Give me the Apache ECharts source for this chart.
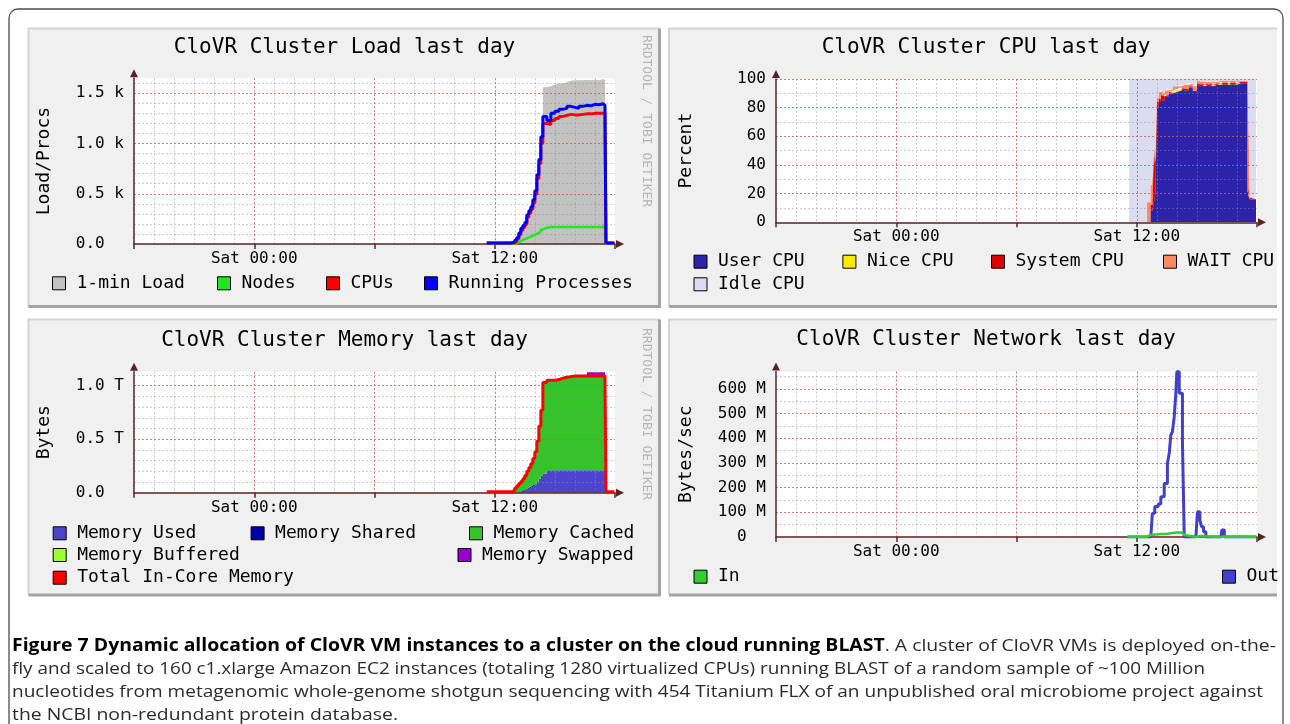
<!DOCTYPE html>
<html>
<head>
<meta charset="utf-8">
<title>CloVR cluster ganglia graphs</title>
<script src="https://cdn.jsdelivr.net/npm/echarts@6.0.0/dist/echarts.min.js"></script>
<style>
  html, body { margin:0; padding:0; background:#ffffff; }
  body { width:1290px; height:724px; position:relative; overflow:hidden; }
  #chart { position:absolute; left:0; top:0; width:1290px; height:724px; }
  .cap { position:absolute; left:12px; white-space:nowrap; font-family:"Open Sans","Noto Sans",sans-serif; font-size:17px; line-height:23px; color:#2b2b2b; transform-origin:0 50%; }
  .cap b { font-weight:700; color:#000; }
</style>
</head>
<body>
<div id="chart"></div>
<div class="cap" id="cap1" style="top:633px"><b>Figure 7 Dynamic allocation of CloVR VM instances to a cluster on the cloud running BLAST</b>. A cluster of CloVR VMs is deployed on-the-</div>
<div class="cap" id="cap2" style="top:656px">fly and scaled to 160 c1.xlarge Amazon EC2 instances (totaling 1280 virtualized CPUs) running BLAST of a random sample of ~100 Million</div>
<div class="cap" id="cap3" style="top:679px">nucleotides from metagenomic whole-genome shotgun sequencing with 454 Titanium FLX of an unpublished oral microbiome project against</div>
<div class="cap" id="cap4" style="top:702px">the NCBI non-redundant protein database.</div>
<script>
// ---------------- DATA ----------------
// time axis in hours since Fri 18:00 (0 .. 24)
const timeTickHours = [6, 18];
const timeTickLabels = ['Sat 00:00', 'Sat 12:00'];

// Load panel
const loadHours = [17.6, 18.0, 18.4, 18.8, 18.9, 19.0, 19.1, 19.2, 19.3, 19.4, 19.5, 19.6, 19.7, 19.8, 19.9, 20.0, 20.1, 20.2, 20.3, 20.4, 20.6, 20.8, 21.0, 21.2, 21.4, 21.6, 21.8, 22.0, 22.2, 22.4, 22.6, 22.8, 23.0, 23.2, 23.4, 23.5, 23.55, 23.8, 23.97];
const loadOneMin = [0, 0, 0, 0, 5, 20, 45, 80, 120, 150, 180, 245, 285, 325, 390, 470, 620, 770, 960, 1560, 1570, 1585, 1600, 1600, 1610, 1625, 1630, 1630, 1630, 1635, 1630, 1635, 1630, 1640, 1635, 1630, 0, 0, 0];
const loadNodes = [0, 0, 0, 0, 0, 8, 18, 30, 40, 48, 57, 65, 73, 82, 92, 100, 110, 125, 145, 160, 170, 170, 170, 170, 170, 170, 170, 170, 170, 170, 170, 170, 170, 170, 170, 170, 0, 0, 0];
const loadCpus = [10, 10, 10, 10, 12, 25, 50, 90, 135, 165, 195, 265, 305, 345, 410, 495, 650, 800, 1000, 1200, 1190, 1230, 1250, 1270, 1280, 1290, 1285, 1285, 1290, 1295, 1295, 1300, 1300, 1300, 1300, 1200, 10, 10, 10];
const loadProcs = [10, 10, 10, 15, 20, 40, 65, 110, 156, 185, 215, 290, 330, 371, 440, 530, 690, 840, 1068, 1270, 1230, 1300, 1320, 1340, 1350, 1370, 1360, 1350, 1370, 1380, 1375, 1390, 1385, 1395, 1380, 1360, 10, 10, 10];
const loadTickLabels = ['0.0\u00a0\u00a0', '0.5 k', '1.0 k', '1.5 k'];

// CPU panel (percent)
const cpuHours = [17.62, 18.5, 18.68, 18.78, 18.87, 18.93, 19.0, 19.1, 19.2, 19.3, 19.4, 19.6, 19.8, 20.0, 20.2, 20.4, 20.6, 20.8, 21.0, 21.2, 21.4, 21.6, 21.8, 22.0, 22.2, 22.4, 22.6, 22.8, 23.0, 23.2, 23.4, 23.53, 23.62, 23.95];
const cpuUser = [0, 0, 8, 15, 20, 72, 80, 84, 86, 85, 88, 90, 91, 92, 93, 92, 94, 91, 96, 95, 96, 95, 96, 96, 97, 96, 97, 96, 97, 97, 97, 22, 16, 16];
const cpuNice = [0, 0, 0, 0, 0, 0, 0, 0, 0, 0, 0, 0, 0, 0, 0, 0, 0, 0, 0, 0, 0, 0, 0, 0, 0, 0, 0, 0, 0, 0, 0, 0, 0, 0];
const cpuSystem = [0, 0, 4, 35, 20, 5, 4, 2, 3, 3, 1, 1, 1, 1, 1, 1, 1, 1, 1, 1, 1, 1, 1, 1, 1, 1, 1, 1, 1, 1, 1, 1, 1, 1];
const cpuWait = [0, 14, 14, 2, 2, 3, 3, 5, 3, 2, 3, 2, 3, 2, 2, 3, 2, 3, 2, 2, 1, 2, 1, 2, 1, 2, 1, 2, 1, 1, 1, 2, 1, 1];
const cpuIdle = [100, 86, 74, 48, 58, 20, 13, 9, 8, 10, 8, 7, 5, 5, 4, 4, 3, 5, 1, 2, 2, 2, 2, 1, 1, 1, 1, 1, 1, 1, 1, 75, 82, 82];
const cpuTickLabels = ['0', '20', '40', '60', '80', '100'];

// Memory panel (terabytes)
const memHours = [17.6, 18.0, 18.4, 18.8, 18.9, 19.0, 19.1, 19.2, 19.3, 19.4, 19.5, 19.6, 19.7, 19.8, 19.9, 20.0, 20.1, 20.2, 20.3, 20.4, 20.6, 20.8, 21.0, 21.2, 21.4, 21.6, 21.8, 22.0, 22.2, 22.4, 22.6, 22.8, 23.0, 23.2, 23.4, 23.5, 23.55, 23.8, 23.97];
const memUsed = [0, 0, 0, 0, 0, 0, 0, 0.005, 0.01, 0.02, 0.028, 0.035, 0.045, 0.055, 0.068, 0.08, 0.1, 0.13, 0.16, 0.18, 0.21, 0.21, 0.21, 0.21, 0.21, 0.21, 0.21, 0.21, 0.21, 0.21, 0.21, 0.21, 0.21, 0.21, 0.21, 0.21, 0, 0, 0];
const memShared = [0, 0, 0, 0, 0, 0, 0, 0, 0, 0, 0, 0, 0, 0, 0, 0, 0, 0, 0, 0, 0, 0, 0, 0, 0, 0, 0, 0, 0, 0, 0, 0, 0, 0, 0, 0, 0, 0, 0];
const memCached = [0, 0, 0, 0, 0.015, 0.035, 0.055, 0.07, 0.085, 0.1, 0.122, 0.155, 0.18, 0.205, 0.242, 0.29, 0.37, 0.48, 0.6, 0.84, 0.84, 0.84, 0.845, 0.86, 0.87, 0.875, 0.88, 0.88, 0.88, 0.88, 0.88, 0.88, 0.88, 0.88, 0.88, 0.86, 0, 0, 0];
const memBuffered = [0, 0, 0, 0, 0, 0, 0, 0, 0, 0, 0, 0, 0, 0, 0, 0, 0, 0, 0, 0, 0, 0, 0, 0, 0, 0, 0, 0, 0, 0, 0, 0, 0, 0, 0, 0, 0, 0, 0];
const memSwapped = [0, 0, 0, 0, 0, 0, 0, 0, 0, 0, 0, 0, 0, 0, 0, 0, 0, 0, 0, 0, 0, 0, 0, 0, 0, 0, 0, 0, 0, 0, 0.035, 0.035, 0.035, 0.035, 0.035, 0, 0, 0, 0];
const memTotal = [0.01, 0.01, 0.01, 0.01, 0.025, 0.045, 0.065, 0.085, 0.105, 0.13, 0.16, 0.2, 0.235, 0.27, 0.32, 0.38, 0.48, 0.62, 0.77, 1.03, 1.05, 1.05, 1.055, 1.07, 1.08, 1.085, 1.09, 1.09, 1.09, 1.09, 1.09, 1.09, 1.09, 1.09, 1.09, 1.07, 0.01, 0.01, 0.01];
const memTickLabels = ['0.0\u00a0\u00a0', '0.5 T', '1.0 T'];

// Network panel (MB/s)
const netHours = [17.53, 18.45, 18.7, 18.78, 18.9, 19.07, 19.2, 19.37, 19.53, 19.62, 19.7, 19.78, 19.87, 19.95, 20.0, 20.12, 20.17, 20.28, 20.37, 20.45, 20.95, 21.03, 21.15, 21.23, 21.33, 21.45, 21.53, 22.2, 22.25, 22.37, 23.97];
const netOut = [0, 0, 0, 96, 123, 134, 163, 217, 298, 339, 413, 426, 487, 582, 669, 582, 582, 386, 0, 0, 0, 102, 69, 42, 21, 0, 0, 0, 28, 0, 0];
const netIn = [0, 8, 10, 10, 11, 12, 12, 13, 14, 15, 16, 17, 17, 18, 18, 18, 17, 16, 8, 0, 2, 4, 5, 4, 3, 2, 0, 0, 2, 0, 0];
const netTickLabels = ['0\u00a0\u00a0', '100 M', '200 M', '300 M', '400 M', '500 M', '600 M'];

// ---------------- STYLE ----------------
const FONT = '"DejaVu Sans Mono", "Liberation Mono", monospace';
const AXIS = '#5a2222';
const MINOR = 'rgba(143,143,143,0.45)';
const MAJOR = 'rgba(222,80,80,0.7)';

const grids = [
  {left: 134, top: 78.2, width: 481, height: 165.8},
  {left: 776, top: 79, width: 481, height: 143.3},
  {left: 134, top: 371.8, width: 481, height: 120.9},
  {left: 776, top: 371.5, width: 481, height: 165.5}
].map(g => Object.assign(g, {show: true, backgroundColor: '#ffffff', borderWidth: 0, containLabel: false, outerBoundsMode: 'none'}));

const xAxes = [];
const yAxes = [];
function addX(g) {
  xAxes.push({gridIndex: g, type: 'value', position: 'bottom', offset: 0, min: 0, max: 24, interval: 1, z: 3,
    axisLine: {show: false}, axisTick: {show: false}, axisLabel: {show: false},
    splitLine: {show: true, showMinLine: false, showMaxLine: false, lineStyle: {color: MINOR, type: [2, 2], width: 1}}});
  xAxes.push({gridIndex: g, type: 'value', position: 'bottom', offset: 0, min: 0, max: 24, interval: 6, z: 3,
    axisLine: {show: true, onZero: false, symbol: ['none', 'triangle'], symbolSize: [8, 8], symbolOffset: [0, 5], lineStyle: {color: AXIS, width: 1.5}},
    axisTick: {show: true, length: 5, lineStyle: {color: AXIS, width: 1.5}},
    axisLabel: {show: true, margin: 7, fontFamily: FONT, fontSize: 16, color: '#000',
      formatter: v => { const i = timeTickHours.indexOf(v); return i >= 0 ? timeTickLabels[i] : ''; }},
    splitLine: {show: true, showMinLine: false, showMaxLine: false, lineStyle: {color: MAJOR, type: [2, 2], width: 1}}});
}
function addY(g, max, minor, major, labels, name, showMax) {
  yAxes.push({gridIndex: g, type: 'value', position: 'left', offset: 0, min: 0, max: max, interval: minor, z: 3,
    axisLine: {show: false}, axisTick: {show: false}, axisLabel: {show: false},
    splitLine: {show: true, showMinLine: false, showMaxLine: showMax, lineStyle: {color: MINOR, type: [2, 2], width: 1}}});
  yAxes.push({gridIndex: g, type: 'value', position: 'left', offset: 0, min: 0, max: max, interval: major, z: 3,
    name: name, nameLocation: 'middle', nameGap: 81, nameRotate: 90,
    nameTextStyle: {fontFamily: FONT, fontSize: 18, color: '#000'},
    axisLine: {show: true, onZero: false, symbol: ['none', 'triangle'], symbolSize: [8, 8], symbolOffset: [0, 5], lineStyle: {color: AXIS, width: 1.5}},
    axisTick: {show: false},
    axisLabel: {show: true, margin: 10, fontFamily: FONT, fontSize: 16, color: '#000', showMaxLabel: showMax,
      formatter: v => { const k = v / major; const r = Math.round(k); return Math.abs(k - r) < 1e-6 && labels[r] != null ? labels[r] : ''; }},
    splitLine: {show: true, showMinLine: false, showMaxLine: showMax, lineStyle: {color: MAJOR, type: [2, 2], width: 1}}});
}
addX(0); addX(1); addX(2); addX(3);
addY(0, 1650, 100, 500, loadTickLabels, 'Load/Procs', false);
addY(1, 100, 10, 20, cpuTickLabels, 'Percent', true);
addY(2, 1.13, 0.1, 0.5, memTickLabels, 'Bytes', false);
addY(3, 670, 50, 100, netTickLabels, 'Bytes/sec', false);

const series = [];
function add(name, g, hours, vals, opt) {
  // value first, hour second: ECharts stacks the first value dimension
  series.push(Object.assign({
    name: name, type: 'line', xAxisIndex: 2 * g + 1, yAxisIndex: 2 * g + 1,
    data: hours.map((h, i) => [vals[i], h]),
    encode: {x: 1, y: 0},
    step: 'end', symbol: 'none', showSymbol: false, silent: true, animation: false,
    emphasis: {disabled: true}
  }, opt));
}
const area = (color, stack) => ({stack: stack, z: 2, lineStyle: {width: 0, color: color}, itemStyle: {color: color}, areaStyle: {color: color, opacity: 1}});
const line = (color, w) => ({z: 4, lineStyle: {width: w, color: color}, itemStyle: {color: color}});

add('1-min Load', 0, loadHours, loadOneMin, area('#c2c2c2', 'load'));
add('Nodes', 0, loadHours, loadNodes, line('#1fe81f', 2.5));
add('CPUs', 0, loadHours, loadCpus, line('#ff0000', 3));
add('Running Processes', 0, loadHours, loadProcs, line('#0000ff', 3));

add('User CPU', 1, cpuHours, cpuUser, area('#2d22aa', 'cpu'));
add('Nice CPU', 1, cpuHours, cpuNice, area('#ffea00', 'cpu'));
add('System CPU', 1, cpuHours, cpuSystem, area('#dd0000', 'cpu'));
add('WAIT CPU', 1, cpuHours, cpuWait, area('#ff8a60', 'cpu'));
add('Idle CPU', 1, cpuHours, cpuIdle, area('#dcdcf0', 'cpu'));

add('Memory Used', 2, memHours, memUsed, area('#4c44cc', 'mem'));
add('Memory Shared', 2, memHours, memShared, area('#0000aa', 'mem'));
add('Memory Cached', 2, memHours, memCached, area('#36c32a', 'mem'));
add('Memory Buffered', 2, memHours, memBuffered, area('#99ff33', 'mem'));
add('Memory Swapped', 2, memHours, memSwapped, area('#9900cc', 'mem'));
add('Total In-Core Memory', 2, memHours, memTotal, line('#ff0000', 3));

add('Out', 3, netHours, netOut, line('#4040cc', 3));
add('In', 3, netHours, netIn, line('#33cc33', 2.5));

function lg(name, left, cy) {
  return {data: [name], left: left, top: cy - 9, orient: 'horizontal', padding: 0,
    itemWidth: 13, itemHeight: 13, itemGap: 0, icon: 'rect', selectedMode: false,
    itemStyle: {borderColor: '#000', borderWidth: 1},
    textStyle: {fontFamily: FONT, fontSize: 18, lineHeight: 18, color: '#000', padding: [0, 0, 0, 6]}};
}
const legends = [
  lg('1-min Load', 52, 283.3), lg('Nodes', 217, 283.3), lg('CPUs', 326, 283.3), lg('Running Processes', 424, 283.3),
  lg('User CPU', 693.5, 261.7), lg('Nice CPU', 842.4, 261.7), lg('System CPU', 991, 261.7), lg('WAIT CPU', 1163, 261.7),
  lg('Idle CPU', 693.5, 284.3),
  lg('Memory Used', 52.7, 533.3), lg('Memory Shared', 250.6, 533.3), lg('Memory Cached', 469, 533.3),
  lg('Memory Buffered', 52.7, 555), lg('Memory Swapped', 457.5, 555),
  lg('Total In-Core Memory', 52.7, 577.7),
  lg('In', 693.5, 576.7), lg('Out', 1222, 576.7)
];

const titles = [
  {text: 'CloVR Cluster Load last day', left: 344.5, top: 37.2},
  {text: 'CloVR Cluster CPU last day', left: 986, top: 37.2},
  {text: 'CloVR Cluster Memory last day', left: 344.5, top: 330.5},
  {text: 'CloVR Cluster Network last day', left: 986, top: 329.5}
].map(t => Object.assign(t, {textAlign: 'center', padding: 0,
  textStyle: {fontFamily: FONT, fontSize: 21, fontWeight: 'normal', color: '#000'}}));

const graphics = [];
graphics.push({type: 'rect', z: -10, silent: true, shape: {x: 9, y: 9, width: 1274, height: 800, r: 9},
  style: {fill: '#ffffff', stroke: '#4d4d4d', lineWidth: 1.3}});
function panel(x0, y0, x1, y1, rightEdge) {
  graphics.push({type: 'rect', z: -9, silent: true, shape: {x: x0, y: y0, width: x1 - x0, height: y1 - y0}, style: {fill: '#f0f0f0'}});
  graphics.push({type: 'polyline', z: -8, silent: true, shape: {points: [[x0, y1], [x0, y0], [x1, y0]]}, style: {stroke: '#d4d4d4', lineWidth: 2, fill: null}});
  graphics.push({type: 'polyline', z: -8, silent: true, shape: {points: rightEdge ? [[x0, y1], [x1, y1], [x1, y0]] : [[x0, y1], [x1, y1]]}, style: {stroke: '#a4a4a4', lineWidth: 3, fill: null}});
}
panel(28.5, 28.5, 659.5, 306.5, true);
panel(669, 28.5, 1277, 306.5, false);
panel(28.5, 319.5, 659.5, 595, true);
panel(669, 319.5, 1277, 595, false);
function watermark(x, y) {
  graphics.push({type: 'text', z: -7, silent: true, x: x, y: y, rotation: -Math.PI / 2,
    style: {text: 'RRDTOOL / TOBI OETIKER', font: '13px "DejaVu Sans Mono", monospace', fill: '#b4b4b4',
      align: 'left', verticalAlign: 'middle', textAlign: 'left', textVerticalAlign: 'middle'}});
}
watermark(646, 35);
watermark(646, 328);

const chart = echarts.init(document.getElementById('chart'), null, {renderer: 'canvas', width: 1290, height: 724});
chart.setOption({
  animation: false,
  backgroundColor: 'transparent',
  title: titles,
  legend: legends,
  grid: grids,
  xAxis: xAxes,
  yAxis: yAxes,
  series: series,
  graphic: {elements: graphics}
});

// fit caption lines to the widths measured on the reference
const capTargets = [1264, 1193, 1251, 386];
['cap1', 'cap2', 'cap3', 'cap4'].forEach((id, i) => {
  const el = document.getElementById(id);
  const w = el.getBoundingClientRect().width;
  if (w > 0) el.style.transform = 'scaleX(' + (capTargets[i] / w).toFixed(4) + ')';
});
</script>
</body>
</html>
